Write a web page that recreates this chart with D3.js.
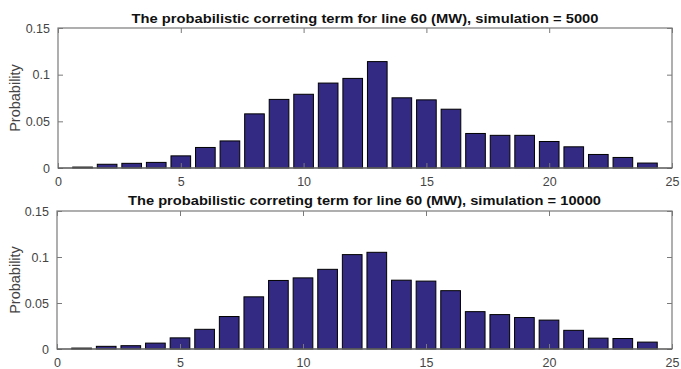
<!DOCTYPE html>
<html>
<head>
<meta charset="utf-8">
<script src="https://cdn.jsdelivr.net/npm/d3@7/dist/d3.min.js"></script>
<style>
  html, body { margin: 0; padding: 0; background: #fff; }
  svg { display: block; font-family: "Liberation Sans", Arial, sans-serif; }
</style>
</head>
<body>
<svg id="chart" width="681" height="369"></svg>
<script>
const bins = d3.range(1, 25);
const prob5000 = [0.001, 0.004, 0.005, 0.006, 0.013, 0.022, 0.029, 0.058, 0.0735, 0.079, 0.091, 0.096, 0.114, 0.0752, 0.073, 0.063, 0.037, 0.035, 0.035, 0.0284, 0.0227, 0.0145, 0.0113, 0.0053];
const prob10000 = [0.001, 0.0029, 0.0036, 0.0064, 0.0121, 0.0214, 0.0353, 0.0567, 0.0745, 0.0773, 0.0866, 0.1026, 0.1051, 0.0748, 0.0738, 0.0634, 0.0406, 0.0374, 0.0342, 0.0314, 0.0203, 0.0118, 0.0114, 0.0075];
const xTicks = [0, 5, 10, 15, 20, 25];
const yTicks = [0, 0.05, 0.1, 0.15];
const titles = [
  "The probabilistic correting term for line 60 (MW), simulation = 5000",
  "The probabilistic correting term for line 60 (MW), simulation = 10000"
];

const svg = d3.select("#chart");
const barColor = "#332a84";
const axisColor = "#7a7a7a";
const textColor = "#444";

const panels = [
  { values: prob5000, title: titles[0], top: 28, bottom: 168, left: 58, titleY: 23, titleW: 467 },
  { values: prob10000, title: titles[1], top: 211, bottom: 349, left: 57, titleY: 205, titleW: 473 }
];

panels.forEach((p) => {
  const x = d3.scaleLinear().domain([0, 25]).range([p.left, 672]);
  const y = d3.scaleLinear().domain([0, 0.15]).range([p.bottom, p.top]);
  const g = svg.append("g");
  const bw = x(0.8) - x(0);

  // bars
  g.append("g").selectAll("rect").data(p.values).join("rect")
    .attr("x", (d, i) => x(bins[i]) - bw / 2)
    .attr("y", (d) => y(d))
    .attr("width", bw)
    .attr("height", (d) => y(0) - y(d))
    .attr("fill", barColor)
    .attr("stroke", "#000")
    .attr("stroke-width", 1);

  // box
  g.append("rect").attr("x", x(0)).attr("y", y(0.15)).attr("width", x(25) - x(0)).attr("height", y(0) - y(0.15))
    .attr("fill", "none").attr("stroke", axisColor).attr("stroke-width", 1.2);

  // inward ticks on all four sides
  const bottomAxis = d3.axisBottom(x).tickValues(xTicks).tickSizeInner(-5).tickSizeOuter(0).tickPadding(9);
  const topAxis = d3.axisTop(x).tickValues(xTicks).tickSizeInner(-5).tickSizeOuter(0).tickFormat("");
  const leftAxis = d3.axisLeft(y).tickValues(yTicks).tickSizeInner(-5).tickSizeOuter(0).tickPadding(8).tickFormat(d3.format("~g"));
  const rightAxis = d3.axisRight(y).tickValues(yTicks).tickSizeInner(-5).tickSizeOuter(0).tickFormat("");

  const axes = [
    g.append("g").attr("transform", `translate(0,${y(0)})`).call(bottomAxis),
    g.append("g").attr("transform", `translate(0,${y(0.15)})`).call(topAxis),
    g.append("g").attr("transform", `translate(${x(0)},0)`).call(leftAxis),
    g.append("g").attr("transform", `translate(${x(25)},0)`).call(rightAxis)
  ];
  axes.forEach((a) => {
    a.select(".domain").remove();
    a.selectAll(".tick line").attr("stroke", axisColor);
    a.selectAll(".tick text").attr("fill", textColor).attr("font-size", 12.5);
  });
  // baseline under bars
  g.append("line").attr("x1", x(0)).attr("x2", x(25)).attr("y1", y(0)).attr("y2", y(0))
    .attr("stroke", "#555").attr("stroke-width", 1.2);

  // y label
  g.append("text")
    .attr("transform", `translate(20,${(p.top + p.bottom) / 2}) rotate(-90)`)
    .attr("text-anchor", "middle")
    .attr("fill", textColor)
    .attr("font-size", 14.5)
    .text("Probability");

  // title
  g.append("text")
    .attr("x", (x(0) + x(25)) / 2)
    .attr("y", p.titleY)
    .attr("text-anchor", "middle")
    .attr("font-weight", "bold")
    .attr("font-size", 13.5)
    .attr("fill", "#111")
    .attr("textLength", p.titleW)
    .attr("lengthAdjust", "spacingAndGlyphs")
    .text(p.title);
});
</script>
</body>
</html>
